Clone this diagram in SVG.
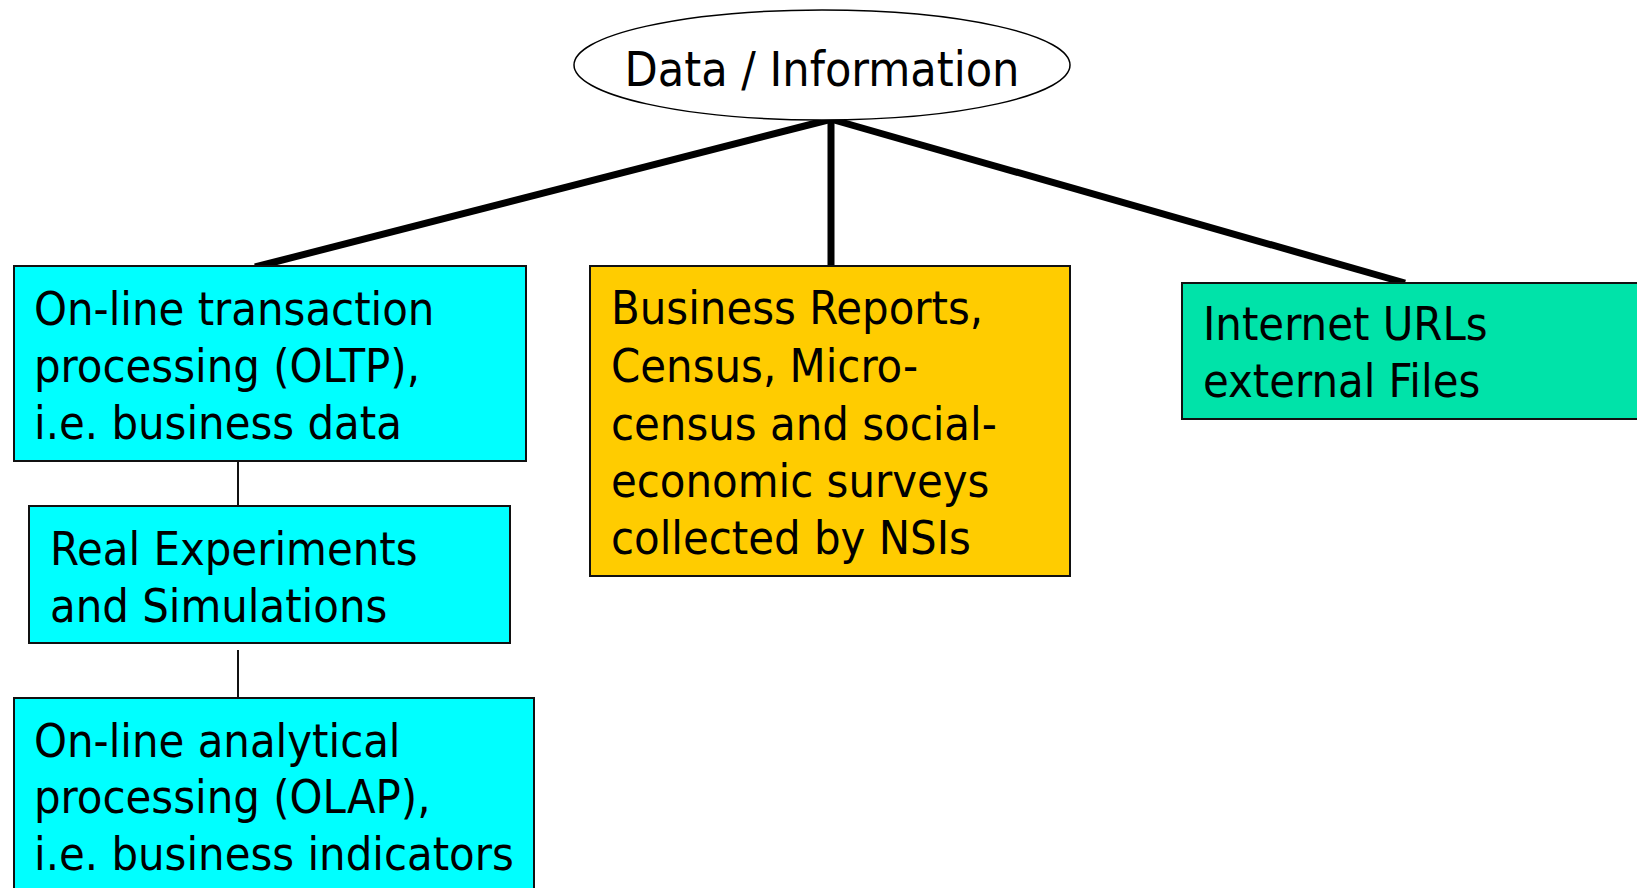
<svg xmlns="http://www.w3.org/2000/svg" width="1637" height="888" viewBox="0 0 1637 888">
  <style>
    .lbl { font-family: "DejaVu Sans Condensed", "DejaVu Sans", sans-serif; font-stretch: condensed; font-size: 46.6px; fill: #000; }
    .title { font-size: 48px; }
    .box { stroke: #111; stroke-width: 2; }
    .cyan { fill: #00FFFF; }
    .gold { fill: #FFCC00; }
    .green { fill: #00E3A9; }
    .thick { stroke: #000; stroke-width: 7; stroke-linecap: butt; fill: none; }
    .thin { stroke: #111; stroke-width: 2; fill: none; }
  </style>
  <rect width="1637" height="888" fill="#fff"/>

  <!-- connectors -->
  <g id="connectors">
    <line class="thick" x1="828" y1="120" x2="255" y2="267"/>
    <line class="thick" x1="831" y1="119" x2="831" y2="266"/>
    <line class="thick" x1="834" y1="120" x2="1405" y2="283"/>
    <line class="thin" x1="238" y1="461" x2="238" y2="506"/>
    <line class="thin" x1="238" y1="650" x2="238" y2="698"/>
  </g>

  <!-- root ellipse -->
  <g id="data-information">
    <ellipse cx="822" cy="65" rx="248" ry="55" fill="#fff" stroke="#000" stroke-width="1.5"/>
    <text class="lbl title" x="822" y="86" text-anchor="middle">Data / Information</text>
  </g>

  <g id="oltp">
    <rect class="box cyan" x="14" y="266" width="512" height="195"/>
    <text class="lbl" x="34" y="325">On-line transaction</text>
    <text class="lbl" x="34" y="382">processing (OLTP),</text>
    <text class="lbl" x="34" y="439">i.e. business data</text>
  </g>

  <g id="experiments">
    <rect class="box cyan" x="29" y="506" width="481" height="137"/>
    <text class="lbl" x="50" y="565">Real Experiments</text>
    <text class="lbl" x="50" y="622">and Simulations</text>
  </g>

  <g id="olap">
    <rect class="box cyan" x="14" y="698" width="520" height="200"/>
    <text class="lbl" x="34" y="757">On-line analytical</text>
    <text class="lbl" x="34" y="813">processing (OLAP),</text>
    <text class="lbl" x="34" y="870">i.e. business indicators</text>
  </g>

  <g id="nsi-reports">
    <rect class="box gold" x="590" y="266" width="480" height="310"/>
    <text class="lbl" x="611" y="324">Business Reports,</text>
    <text class="lbl" x="611" y="382">Census, Micro-</text>
    <text class="lbl" x="611" y="440">census and social-</text>
    <text class="lbl" x="611" y="497">economic surveys</text>
    <text class="lbl" x="611" y="554">collected by NSIs</text>
  </g>

  <g id="internet">
    <rect class="box green" x="1182" y="283" width="470" height="136"/>
    <text class="lbl" x="1203" y="340">Internet URLs</text>
    <text class="lbl" x="1203" y="397">external Files</text>
  </g>
</svg>
